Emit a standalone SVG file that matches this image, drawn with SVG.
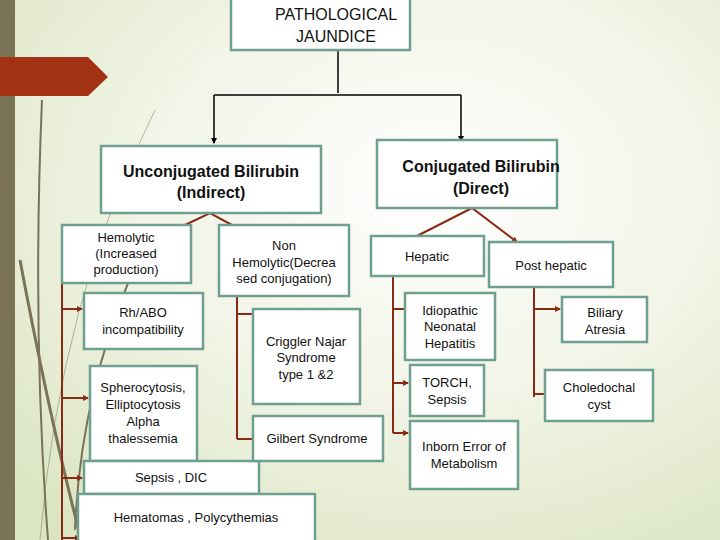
<svg xmlns="http://www.w3.org/2000/svg" width="720" height="540" viewBox="0 0 720 540">
<defs>
<radialGradient id="bg" cx="0.6" cy="0.35" r="0.8"><stop offset="0" stop-color="#ffffff"/><stop offset="0.5" stop-color="#f1f4e6"/><stop offset="1" stop-color="#dbe5c2"/></radialGradient>
<marker id="ab" viewBox="0 0 6 6" refX="5" refY="3" markerWidth="4" markerHeight="4" orient="auto"><path d="M0,0L6,3L0,6z" fill="#000"/></marker>
<marker id="ar" viewBox="0 0 6 6" refX="5" refY="3" markerWidth="3" markerHeight="3" orient="auto"><path d="M0,0L6,3L0,6z" fill="#8b2a14"/></marker>
</defs>
<style>
.b{fill:#fff;stroke:#6f9f8f;stroke-width:2.5}
.t{font-family:"Liberation Sans",Arial,sans-serif;font-size:13px;fill:#111;text-anchor:middle}
.h{font-size:16px}
.k{stroke:#000;stroke-width:1.5;fill:none}
.r{stroke:#8b2a14;stroke-width:2;fill:none}
.d{stroke:#7a7358;fill:none}
</style>
<rect width="720" height="540" fill="url(#bg)"/>
<rect x="0" y="0" width="15" height="540" fill="#7a7358"/>
<path class="d" stroke-width="2" d="M42,100 Q32,330 48,540"/>
<path class="d" stroke-width="3" d="M20,260 Q50,420 80,535"/>
<path class="d" stroke-width="1" opacity="0.5" d="M155,110 Q60,300 40,540"/>
<path class="d" stroke-width="2" d="M130,278 Q80,400 75,530"/>
<path d="M0,57H88L108,77L88,96H0z" fill="#a33215"/>
<g id="connectors">
<path class="k" d="M338,50V93"/>
<path class="k" d="M214,95H461"/>
<path class="k" d="M214,95V143" marker-end="url(#ab)"/>
<path class="k" d="M461,95V141" marker-end="url(#ab)"/>
<path class="r" d="M185,225L210,213L232,225"/>
<path class="r" d="M417,236L472,208L517,242" marker-end="url(#ar)"/>
<path class="r" d="M62,283V540"/>
<path class="r" d="M62,309H82" marker-end="url(#ar)"/>
<path class="r" d="M62,398H88" marker-end="url(#ar)"/>
<path class="r" d="M62,478H82" marker-end="url(#ar)"/>
<path class="r" d="M62,538H80" marker-end="url(#ar)"/>
<path class="r" d="M237,296V439M237,314H252M237,439H252"/>
<path class="r" d="M393,276V433M393,309H405"/>
<path class="r" d="M393,383H408" marker-end="url(#ar)"/>
<path class="r" d="M393,433H408" marker-end="url(#ar)"/>
<path class="r" d="M534,287V397M534,394H545"/>
<path class="r" d="M534,309H560" marker-end="url(#ar)"/>
</g>
<g id="n1"><rect class="b" x="231" y="-2" width="179" height="52"/><text class="t h" x="336" y="20">PATHOLOGICAL</text><text class="t h" x="336" y="42">JAUNDICE</text></g>
<g id="n2"><rect class="b" x="101" y="146" width="220" height="67"/><text class="t h" x="211" y="177" font-weight="bold" font-size="15">Unconjugated Bilirubin</text><text class="t h" x="211" y="198" font-weight="bold" font-size="15">(Indirect)</text></g>
<g id="n3"><rect class="b" x="377" y="140" width="180" height="68"/><text class="t h" x="481" y="172" font-weight="bold" font-size="15">Conjugated Bilirubin</text><text class="t h" x="481" y="194" font-weight="bold" font-size="15">(Direct)</text></g>
<g id="n4"><rect class="b" x="62" y="225" width="129" height="58"/><text class="t" x="126" y="242">Hemolytic</text><text class="t" x="126" y="258">(Increased</text><text class="t" x="126" y="274">production)</text></g>
<g id="n5"><rect class="b" x="219" y="225" width="130" height="71"/><text class="t" x="284" y="250">Non</text><text class="t" x="284" y="267">Hemolytic(Decrea</text><text class="t" x="284" y="283">sed conjugation)</text></g>
<g id="n6"><rect class="b" x="84" y="293" width="119" height="56"/><text class="t" x="143" y="317">Rh/ABO</text><text class="t" x="143" y="334">incompatibility</text></g>
<g id="n7"><rect class="b" x="90" y="366" width="107" height="95"/><text class="t" x="143" y="392">Spherocytosis,</text><text class="t" x="143" y="409">Elliptocytosis</text><text class="t" x="143" y="426">Alpha</text><text class="t" x="143" y="443">thalessemia</text></g>
<g id="n8"><rect class="b" x="84" y="461" width="175" height="33"/><text class="t" x="171" y="482">Sepsis , DIC</text></g>
<g id="n9"><rect class="b" x="78" y="494" width="237" height="50"/><text class="t" x="196" y="522">Hematomas , Polycythemias</text></g>
<g id="n10"><rect class="b" x="253" y="309" width="107" height="95"/><text class="t" x="306" y="346">Criggler Najar</text><text class="t" x="306" y="362">Syndrome</text><text class="t" x="306" y="379">type 1 &amp;2</text></g>
<g id="n11"><rect class="b" x="253" y="416" width="130" height="45"/><text class="t" x="317" y="443">Gilbert Syndrome</text></g>
<g id="n12"><rect class="b" x="371" y="236" width="113" height="40"/><text class="t" x="427" y="261">Hepatic</text></g>
<g id="n13"><rect class="b" x="489" y="242" width="124" height="45"/><text class="t" x="551" y="270">Post hepatic</text></g>
<g id="n14"><rect class="b" x="405" y="293" width="90" height="67"/><text class="t" x="450" y="315">Idiopathic</text><text class="t" x="450" y="331">Neonatal</text><text class="t" x="450" y="348">Hepatitis</text></g>
<g id="n15"><rect class="b" x="410" y="365" width="74" height="51"/><text class="t" x="447" y="387">TORCH,</text><text class="t" x="447" y="404">Sepsis</text></g>
<g id="n16"><rect class="b" x="410" y="421" width="108" height="68"/><text class="t" x="464" y="451">Inborn Error of</text><text class="t" x="464" y="468">Metabolism</text></g>
<g id="n17"><rect class="b" x="562" y="297" width="85" height="45"/><text class="t" x="605" y="317">Biliary</text><text class="t" x="605" y="334">Atresia</text></g>
<g id="n18"><rect class="b" x="545" y="370" width="108" height="51"/><text class="t" x="599" y="392">Choledochal</text><text class="t" x="599" y="409">cyst</text></g>
</svg>
